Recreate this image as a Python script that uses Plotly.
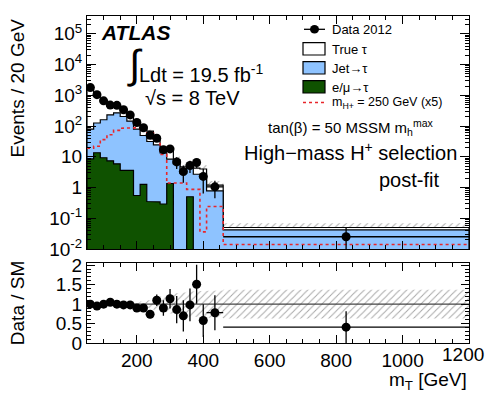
import plotly.graph_objects as go

# ---------------- data ----------------
edges = [50, 70, 90, 110, 130, 150, 170, 190, 210, 230, 250, 270, 290, 310,
         330, 350, 370, 390, 410, 460, 1200]
data = [1800, 1050, 660, 480, 470, 340, 230, 130, 88, 50, 40, 17, 18, 6.8,
        3.3, 5.2, 6.5, 2.3, 1.05, 0.025]
emu_tau = [8.5, 13.5, 9.3, 7.4, 5.9, 3.6, 3.6, 0.55, 1.26, 0.35, 0.34, 0.29,
           1.35, 0, 0, 0.5, 0, 0, 0, 0]
jet_tau = [71, 112, 151, 223, 264, 201, 141, 79, 48, 31, 24, 13, 7.0, 5.9,
           2.9, 4.1, 2.7, 2.3, 0.78, 0.042]
true_tau = [1720, 975, 500, 230, 200, 145, 90, 65, 49, 37, 12.5, 5.5, 7.7,
            2.0, 1.8, 0.7, 1.6, 1.7, 0.42, 0.008]
signal = [19, 22, 36, 52, 72, 85, 88, 88, 80, 60, 39, 12, 1.4, 1.4, 1.4,
          0.87, 0.87, 0.036, 0.24, 0.014]
syst = [0.01, 0.01, 0.01, 0.02, 0.02, 0.03, 0.03, 0.04, 0.07, 0.1, 0.15,
        0.2, 0.24, 0.28, 0.3, 0.32, 0.33, 0.34, 0.35, 0.37]
ratio = [1.0, 0.95, 1.0, 1.05, 1.0, 0.98, 0.98, 0.9, 0.9, 0.74, 1.1, 0.9,
         1.14, 0.86, 0.7, 0.98, 1.51, 0.58, 0.78, 0.41]
ratio_err = [0.02, 0.03, 0.04, 0.04, 0.04, 0.05, 0.06, 0.07, 0.09, 0.1, 0.15,
             0.2, 0.25, 0.35, 0.4, 0.42, 0.5, 0.42, 0.45, 0.41]
xticks = [200, 400, 600, 800, 1000, 1200]
xtick_text = ["200", "400", "600", "800", "1000", "1200"]
ylog_ticks = [0.01, 0.1, 1, 10, 100, 1000, 1e4, 1e5]
ylog_text = ["10<sup>-2</sup>", "10<sup>-1</sup>", "1", "10", "10<sup>2</sup>",
             "10<sup>3</sup>", "10<sup>4</sup>", "10<sup>5</sup>"]
ratio_ticks = [0, 0.5, 1, 1.5, 2]
ratio_text = ["0", "0.5", "1", "1.5", "2"]

FLOOR = 1e-4
FONT = "Liberation Sans, Arial, Helvetica, sans-serif"
BLUE = "#8ec3ff"
GREEN = "#0f5200"
RED = "#e8262b"
HATCH = dict(shape="/", fgcolor="#505050", bgcolor="rgba(0,0,0,0)", size=5, solidity=0.2)

nb = len(data)
centers = [(edges[i] + edges[i + 1]) / 2 for i in range(nb)]
halfw = [(edges[i + 1] - edges[i]) / 2 for i in range(nb)]


def step(vals):
    xs, ys = [], []
    for i, v in enumerate(vals):
        v = v if v > 0 else FLOOR
        xs += [edges[i], edges[i + 1]]
        ys += [v, v]
    return xs, ys


def filled(vals):
    xs, ys = step(vals)
    return [edges[0]] + xs + [edges[-1]], [FLOOR] + ys + [FLOOR]


cum_green = emu_tau
cum_blue = [a + b for a, b in zip(emu_tau, jet_tau)]
total = [a + b for a, b in zip(cum_blue, true_tau)]

fig = go.Figure()

# uncertainty band on total (hatched)
up = [t * (1 + s) for t, s in zip(total, syst)]
dn = [t * (1 - s) for t, s in zip(total, syst)]
ux, uy = step(up)
dx, dy = step(dn)
fig.add_trace(go.Scatter(
    x=ux + dx[::-1], y=uy + dy[::-1], fill="toself", mode="lines",
    line=dict(width=0), fillcolor="rgba(0,0,0,0)", fillpattern=HATCH,
    xaxis="x", yaxis="y", hoverinfo="skip", showlegend=False))

for vals, col in [(total, "white"), (cum_blue, BLUE), (cum_green, GREEN)]:
    fx, fy = filled(vals)
    fig.add_trace(go.Scatter(
        x=fx, y=fy, fill="toself", mode="lines", fillcolor=col,
        line=dict(color="black", width=1.2), xaxis="x", yaxis="y",
        hoverinfo="skip", showlegend=False))

sx, sy = step(signal)
fig.add_trace(go.Scatter(
    x=sx, y=sy, mode="lines", line=dict(color=RED, width=1.6, dash="dot"),
    xaxis="x", yaxis="y", showlegend=False))

data_err = [d * e / r for d, e, r in zip(data, ratio_err, ratio)]
fig.add_trace(go.Scatter(
    x=centers, y=data, mode="markers",
    marker=dict(color="black", size=9),
    error_y=dict(type="data", array=data_err, color="black", thickness=1.3, width=0),
    error_x=dict(type="data", array=halfw, color="black", thickness=1.3, width=0),
    xaxis="x", yaxis="y", showlegend=False))

# ---- ratio panel ----
rux, ruy = step([1 + s for s in syst])
rdx, rdy = step([1 - s for s in syst])
fig.add_trace(go.Scatter(
    x=rux + rdx[::-1], y=ruy + rdy[::-1], fill="toself", mode="lines",
    line=dict(width=0), fillcolor="rgba(0,0,0,0)", fillpattern=HATCH,
    xaxis="x2", yaxis="y2", hoverinfo="skip", showlegend=False))
fig.add_trace(go.Scatter(
    x=[edges[0], edges[-1]], y=[1, 1], mode="lines",
    line=dict(color="#444444", width=1.2), xaxis="x2", yaxis="y2",
    showlegend=False))
fig.add_trace(go.Scatter(
    x=centers, y=ratio, mode="markers", marker=dict(color="black", size=9),
    error_y=dict(type="data", array=ratio_err, color="black", thickness=1.3, width=0),
    error_x=dict(type="data", array=halfw, color="black", thickness=1.3, width=0),
    xaxis="x2", yaxis="y2", showlegend=False))

# page has an 8px body margin: draw on a 478x387 figure offset by 8px
OFF = 8
W, H = 494 - 2 * OFF, 403 - 2 * OFF


def px(x):
    return (x - OFF) / W


def py(y):
    return 1 - (y - OFF) / H


axis_common = dict(showline=True, linecolor="black", linewidth=1, mirror="allticks",
                   ticks="inside", tickcolor="black", showgrid=False, zeroline=False,
                   tickfont=dict(family=FONT, size=19, color="black"))
log_minor = [m * 10 ** e for e in range(-2, 6) for m in range(2, 10)]

# the last x label would spill past the page edge; it is drawn as an annotation
shown_xtext = xtick_text[:-1] + [""]

fig.update_layout(
    width=W, height=H, margin=dict(l=0, r=0, t=0, b=0),
    paper_bgcolor="white", plot_bgcolor="white", showlegend=False,
    font=dict(family=FONT, color="black"),
    xaxis=dict(domain=[px(87), px(469)], range=[edges[0], edges[-1]], anchor="y",
               tickvals=xticks, showticklabels=False, ticklen=8,
               minor=dict(ticks="inside", dtick=50, tick0=0, ticklen=4, tickcolor="black"),
               **axis_common),
    yaxis=dict(domain=[py(253), py(8)], type="log", range=[-2, 5.58],
               anchor="x", tickvals=ylog_ticks, ticktext=ylog_text, ticklen=9,
               minor=dict(ticks="inside", tickmode="array", tickvals=log_minor,
                          ticklen=4, tickcolor="black"),
               **axis_common),
    xaxis2=dict(domain=[px(87), px(469)], range=[edges[0], edges[-1]], anchor="y2",
                tickvals=xticks, ticktext=shown_xtext, ticklen=8,
                minor=dict(ticks="inside", dtick=50, tick0=0, ticklen=4, tickcolor="black"),
                **axis_common),
    yaxis2=dict(domain=[py(352), py(268)], range=[0, 2.05], anchor="x2",
                tickvals=ratio_ticks, ticktext=ratio_text, ticklen=8,
                minor=dict(ticks="inside", dtick=0.1, tick0=0, ticklen=4, tickcolor="black"),
                **axis_common),
)

ann = []


def text(x, y, s, size=17, xanchor="left", yanchor="middle", angle=0):
    ann.append(dict(x=px(x), y=py(y), xref="paper", yref="paper", text=s,
                    showarrow=False, xanchor=xanchor, yanchor=yanchor,
                    textangle=angle, font=dict(family=FONT, size=size, color="black")))


text(17, 9, "Events / 20 GeV", 19, xanchor="center", yanchor="top", angle=-90)
text(17, 310, "Data / SM", 19, xanchor="center", yanchor="middle", angle=-90)
text(485.5, 364, xtick_text[-1], 19, xanchor="right")
text(469, 392, "m<sub>T</sub> [GeV]", 19, xanchor="right")
text(99, 25, "<b><i>ATLAS</i></b>", 21)
text(125, 59, "<span style='font-size:40px'>∫</span>", 17)
text(137, 68, "Ldt = 19.5 fb<sup>-1</sup>", 20)
text(143, 94, "√s = 8 TeV", 20)
text(330, 22, "Data 2012", 13)
text(330, 43, "True τ", 13)
text(330, 63, "Jet→τ", 13)
text(330, 83, "e/μ→τ", 13)
text(330, 99, "m<sub>H+</sub> = 250 GeV (x5)", 12.5)
text(266, 125, "tan(β) = 50 MSSM m<sub>h</sub><sup>max</sup>", 15)
text(459, 150, "High−mass H<sup>+</sup> selection", 20, xanchor="right")
text(441, 180, "post-fit", 20, xanchor="right")
fig.update_layout(annotations=ann)

shapes = [
    dict(type="line", xref="paper", yref="paper", x0=px(304), x1=px(325),
         y0=py(22), y1=py(22), line=dict(color="black", width=1.3)),
    dict(type="circle", xref="paper", yref="paper", x0=px(310), x1=px(319),
         y0=py(17.5), y1=py(26.5), fillcolor="black", line=dict(color="black", width=0)),
    dict(type="rect", xref="paper", yref="paper", x0=px(303), x1=px(325),
         y0=py(49), y1=py(36), fillcolor="white", line=dict(color="black", width=1.2)),
    dict(type="rect", xref="paper", yref="paper", x0=px(303), x1=px(325),
         y0=py(69), y1=py(56), fillcolor=BLUE, line=dict(color="black", width=1.2)),
    dict(type="rect", xref="paper", yref="paper", x0=px(303), x1=px(325),
         y0=py(89), y1=py(76), fillcolor=GREEN, line=dict(color="black", width=1.2)),
    dict(type="line", xref="paper", yref="paper", x0=px(303), x1=px(325),
         y0=py(99), y1=py(99), line=dict(color=RED, width=1.5, dash="dot")),
]
fig.update_layout(shapes=shapes)

fig.write_html("out.html")
